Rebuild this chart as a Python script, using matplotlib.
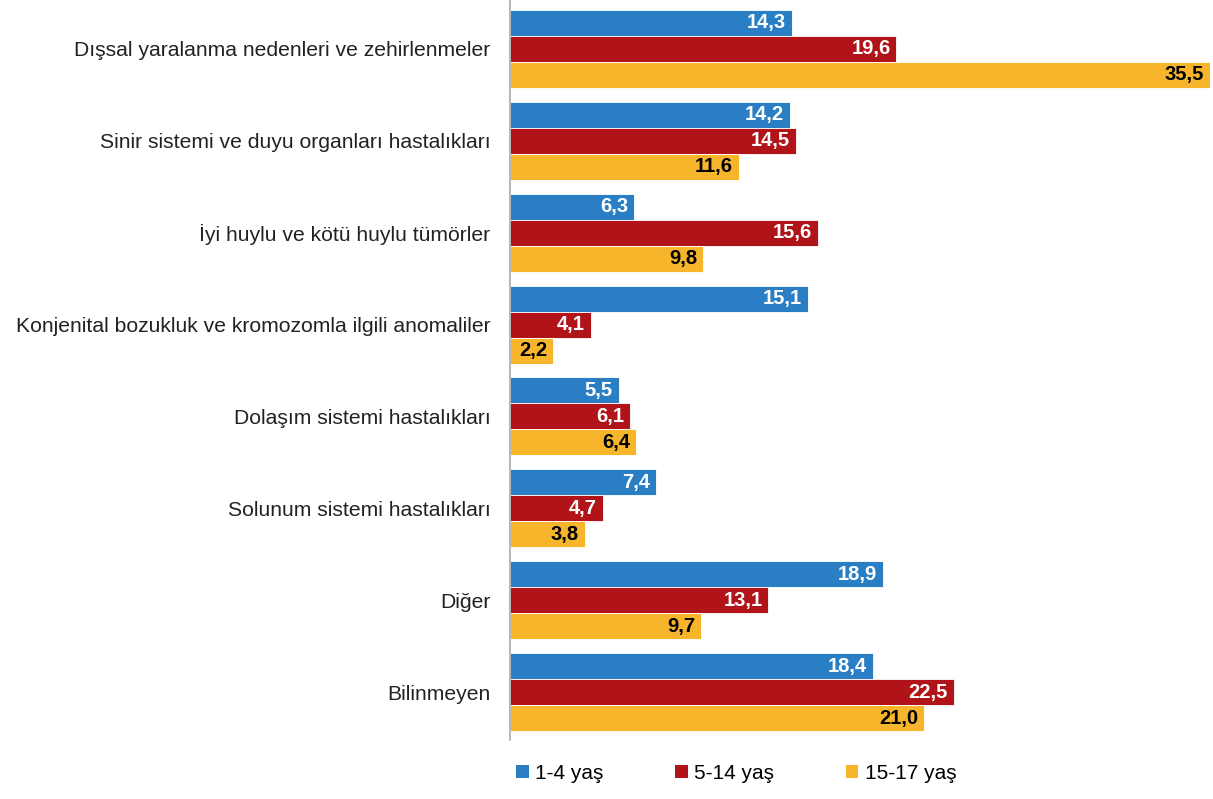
import numpy as np
import matplotlib.pyplot as plt
from matplotlib.patches import Patch

plt.rcParams['font.family'] = ['Liberation Sans', 'DejaVu Sans']

categories = [
    "Dışsal yaralanma nedenleri ve zehirlenmeler",
    "Sinir sistemi ve duyu organları hastalıkları",
    "İyi huylu ve kötü huylu tümörler",
    "Konjenital bozukluk ve kromozomla ilgili anomaliler",
    "Dolaşım sistemi hastalıkları",
    "Solunum sistemi hastalıkları",
    "Diğer",
    "Bilinmeyen",
]
series_names = ["1-4 yaş", "5-14 yaş", "15-17 yaş"]
age_1_4 = [14.3, 14.2, 6.3, 15.1, 5.5, 7.4, 18.9, 18.4]
age_5_14 = [19.6, 14.5, 15.6, 4.1, 6.1, 4.7, 13.1, 22.5]
age_15_17 = [35.5, 11.6, 9.8, 2.2, 6.4, 3.8, 9.7, 21.0]

colors = ["#2a7fc4", "#b01419", "#f7b52c"]
text_colors = ["white", "white", "black"]

fig = plt.figure(figsize=(12.13, 7.99), dpi=100)
ax = fig.add_axes([0.4205, 0.074, 0.577, 0.926])

y = np.arange(len(categories))
h = 0.283
for k, vals in enumerate([age_1_4, age_5_14, age_15_17]):
    pos = y + (k - 1) * h
    ax.barh(pos, vals, height=h, color=colors[k], edgecolor='white', linewidth=0.6)
    for p, v in zip(pos, vals):
        ax.text(v - 0.3, p, f"{v:.1f}".replace('.', ','), ha='right', va='center',
                color=text_colors[k], fontsize=14.5, fontweight='bold')

ax.set_xlim(0, 35.5)
ax.set_ylim(7.52, -0.533)
ax.set_yticks(y)
ax.set_yticklabels(categories, fontsize=15.2, color='#222222')
ax.tick_params(axis='y', length=0, pad=14)
ax.set_xticks([])
for s in ['top', 'right', 'bottom']:
    ax.spines[s].set_visible(False)
ax.spines['left'].set_color('#aaaaaa')
ax.spines['left'].set_linewidth(1.2)

handles = [Patch(facecolor=c) for c in colors]
fig.legend(handles, series_names, loc='center', bbox_to_anchor=(0.607, 0.032), ncol=3,
           frameon=False, fontsize=15, handlelength=0.6, handleheight=0.6,
           handletextpad=0.3, columnspacing=3.45)

fig.savefig('out.png', dpi=100)
